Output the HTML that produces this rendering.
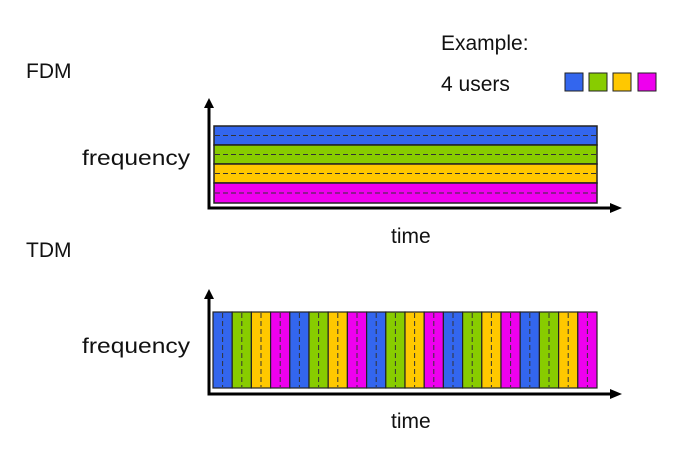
<!DOCTYPE html>
<html><head><meta charset="utf-8"><style>html,body{margin:0;padding:0;background:#fff}svg{display:block}</style></head>
<body>
<svg width="689" height="464" viewBox="0 0 689 464" xmlns="http://www.w3.org/2000/svg" font-family="Liberation Sans, Arial, sans-serif" fill="#111">
<text x="26" y="78" font-size="21">FDM</text>
<text x="26" y="257" font-size="21">TDM</text>
<text x="441" y="50" font-size="21">Example:</text>
<text x="441" y="91" font-size="21">4 users</text>
<g stroke="#222" stroke-width="1">
<rect x="565" y="73" width="18" height="18" fill="#3366ee"/>
<rect x="589" y="73" width="18" height="18" fill="#88cc00"/>
<rect x="613" y="73" width="18" height="18" fill="#ffc800"/>
<rect x="638" y="73" width="18" height="18" fill="#ee00ee"/>
</g>
<text x="82" y="165" font-size="21" textLength="108" lengthAdjust="spacingAndGlyphs">frequency</text>
<text x="391" y="243" font-size="21">time</text>
<text x="82" y="353" font-size="21" textLength="108" lengthAdjust="spacingAndGlyphs">frequency</text>
<text x="391" y="428" font-size="21">time</text>

<!-- FDM -->
<g stroke="#222" stroke-width="1.5">
<rect x="214" y="126" width="383" height="19" fill="#3366ee"/>
<rect x="214" y="145" width="383" height="19" fill="#88cc00"/>
<rect x="214" y="164" width="383" height="19" fill="#ffc800"/>
<rect x="214" y="183" width="383" height="20" fill="#ee00ee"/>
</g>
<g stroke="#333" stroke-width="1" stroke-dasharray="5,3">
<line x1="215" y1="135.5" x2="596" y2="135.5"/>
<line x1="215" y1="154.5" x2="596" y2="154.5"/>
<line x1="215" y1="173.5" x2="596" y2="173.5"/>
<line x1="215" y1="193" x2="596" y2="193"/>
</g>
<g stroke="#000" stroke-width="3" fill="none">
<polyline points="209,106 209,208 612,208"/>
</g>
<polygon points="209,98 204,108 214,108" fill="#000"/>
<polygon points="622,208 610,203 610,213" fill="#000"/>

<!-- TDM -->
<g stroke="#222" stroke-width="1.2">
<rect x="213.0" y="312" width="19.2" height="76" fill="#3366ee"/>
<rect x="232.2" y="312" width="19.2" height="76" fill="#88cc00"/>
<rect x="251.4" y="312" width="19.2" height="76" fill="#ffc800"/>
<rect x="270.6" y="312" width="19.2" height="76" fill="#ee00ee"/>
<rect x="289.8" y="312" width="19.2" height="76" fill="#3366ee"/>
<rect x="309.0" y="312" width="19.2" height="76" fill="#88cc00"/>
<rect x="328.2" y="312" width="19.2" height="76" fill="#ffc800"/>
<rect x="347.4" y="312" width="19.2" height="76" fill="#ee00ee"/>
<rect x="366.6" y="312" width="19.2" height="76" fill="#3366ee"/>
<rect x="385.8" y="312" width="19.2" height="76" fill="#88cc00"/>
<rect x="405.0" y="312" width="19.2" height="76" fill="#ffc800"/>
<rect x="424.2" y="312" width="19.2" height="76" fill="#ee00ee"/>
<rect x="443.4" y="312" width="19.2" height="76" fill="#3366ee"/>
<rect x="462.6" y="312" width="19.2" height="76" fill="#88cc00"/>
<rect x="481.8" y="312" width="19.2" height="76" fill="#ffc800"/>
<rect x="501.0" y="312" width="19.2" height="76" fill="#ee00ee"/>
<rect x="520.2" y="312" width="19.2" height="76" fill="#3366ee"/>
<rect x="539.4" y="312" width="19.2" height="76" fill="#88cc00"/>
<rect x="558.6" y="312" width="19.2" height="76" fill="#ffc800"/>
<rect x="577.8" y="312" width="19.2" height="76" fill="#ee00ee"/>
</g>
<g stroke="#333" stroke-width="1" stroke-dasharray="5,3">
<line x1="222.6" y1="313" x2="222.6" y2="387"/>
<line x1="241.8" y1="313" x2="241.8" y2="387"/>
<line x1="261.0" y1="313" x2="261.0" y2="387"/>
<line x1="280.2" y1="313" x2="280.2" y2="387"/>
<line x1="299.4" y1="313" x2="299.4" y2="387"/>
<line x1="318.6" y1="313" x2="318.6" y2="387"/>
<line x1="337.8" y1="313" x2="337.8" y2="387"/>
<line x1="357.0" y1="313" x2="357.0" y2="387"/>
<line x1="376.2" y1="313" x2="376.2" y2="387"/>
<line x1="395.4" y1="313" x2="395.4" y2="387"/>
<line x1="414.6" y1="313" x2="414.6" y2="387"/>
<line x1="433.8" y1="313" x2="433.8" y2="387"/>
<line x1="453.0" y1="313" x2="453.0" y2="387"/>
<line x1="472.2" y1="313" x2="472.2" y2="387"/>
<line x1="491.4" y1="313" x2="491.4" y2="387"/>
<line x1="510.6" y1="313" x2="510.6" y2="387"/>
<line x1="529.8" y1="313" x2="529.8" y2="387"/>
<line x1="549.0" y1="313" x2="549.0" y2="387"/>
<line x1="568.2" y1="313" x2="568.2" y2="387"/>
<line x1="587.4" y1="313" x2="587.4" y2="387"/>
</g>
<g stroke="#000" stroke-width="3" fill="none">
<polyline points="209,297 209,394 612,394"/>
</g>
<polygon points="209,289 204,299 214,299" fill="#000"/>
<polygon points="622,394 610,389 610,399" fill="#000"/>
</svg>
</body></html>
